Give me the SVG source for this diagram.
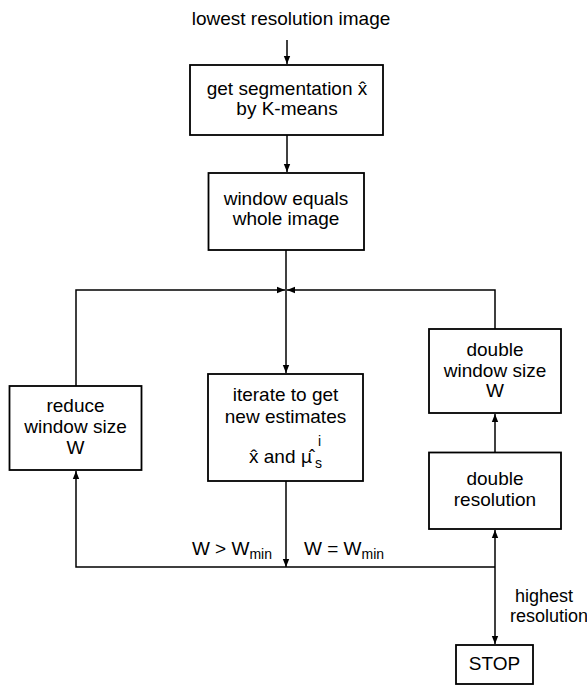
<svg xmlns="http://www.w3.org/2000/svg" width="587" height="685" viewBox="0 0 587 685">
<style>
  .box { fill: #fff; stroke: #000; stroke-width: 1.8; }
  .t { font-family: "Liberation Sans", Arial, Helvetica, sans-serif; font-size: 19px; fill: #000; text-anchor: middle; }
  .l { font-family: "Liberation Sans", Arial, Helvetica, sans-serif; font-size: 19px; fill: #000; }
  .sub { font-size: 14px; }
  .mu { font-family: "Noto Sans", "DejaVu Sans", sans-serif; font-size: 18px; }
  .c { fill: none; stroke: #000; stroke-width: 1.5; }
</style>
<defs>
  <marker id="ah" markerUnits="userSpaceOnUse" markerWidth="10" markerHeight="8" refX="8" refY="4" orient="auto">
    <path d="M0,0.8 L8,4 L0,7.2 Z" fill="#000"/>
  </marker>
</defs>
<rect width="587" height="685" fill="#fff"/>

<text id="title" class="t" x="291" y="25">lowest resolution image</text>

<g id="connectors">
  <line class="c" x1="287" y1="40" x2="287" y2="64" marker-end="url(#ah)"/>
  <line class="c" x1="287" y1="135" x2="287" y2="172" marker-end="url(#ah)"/>
  <line class="c" x1="286" y1="250" x2="286" y2="373" marker-end="url(#ah)"/>
  <polyline class="c" points="76,386 76,290 285,290" marker-end="url(#ah)"/>
  <polyline class="c" points="495,329 495,290 287,290" marker-end="url(#ah)"/>
  <line class="c" x1="286" y1="481" x2="286" y2="567" marker-end="url(#ah)"/>
  <polyline class="c" points="495,567 76,567 76,471" marker-end="url(#ah)"/>
  <line class="c" x1="495" y1="567" x2="495" y2="530" marker-end="url(#ah)"/>
  <line class="c" x1="495" y1="567" x2="495" y2="644" marker-end="url(#ah)"/>
  <line class="c" x1="495" y1="452" x2="495" y2="414" marker-end="url(#ah)"/>
  <text class="l" x="272" y="555" text-anchor="end">W &gt; W<tspan class="sub" dy="4">min</tspan></text>
  <text class="l" x="304" y="555">W = W<tspan class="sub" dy="4">min</tspan></text>
  <text class="l" x="515" y="602" style="font-size:18px">highest</text>
  <text class="l" x="510" y="622" style="font-size:18px">resolution</text>
</g>

<g id="kmeans">
  <rect class="box" x="190" y="65" width="193" height="70"/>
  <text class="t" x="287" y="95">get segmentation x̂</text>
  <text class="t" x="287" y="115">by K-means</text>
</g>

<g id="whole">
  <rect class="box" x="208.5" y="173" width="155.5" height="77"/>
  <text class="t" x="286" y="205">window equals</text>
  <text class="t" x="286" y="225">whole image</text>
</g>

<g id="reduce">
  <rect class="box" x="9.5" y="386" width="132" height="84"/>
  <text class="t" x="75.5" y="412">reduce</text>
  <text class="t" x="75.5" y="433">window size</text>
  <text class="t" x="75.5" y="454">W</text>
</g>

<g id="iterate">
  <rect class="box" x="208" y="374" width="155" height="107"/>
  <text class="t" x="285.5" y="401">iterate to get</text>
  <text class="t" x="285.5" y="423">new estimates</text>
  <text class="l" x="249" y="463">x̂ and <tspan class="mu">μ̂</tspan><tspan class="sub" x="315" y="468">s</tspan><tspan class="sub" x="318" y="446">i</tspan></text>
</g>

<g id="doublewin">
  <rect class="box" x="429" y="329" width="132" height="84"/>
  <text class="t" x="495" y="356">double</text>
  <text class="t" x="495" y="377">window size</text>
  <text class="t" x="495" y="397">W</text>
</g>

<g id="doubleres">
  <rect class="box" x="429" y="452.5" width="132" height="76.5"/>
  <text class="t" x="495" y="485">double</text>
  <text class="t" x="495" y="506">resolution</text>
</g>

<g id="stop">
  <rect class="box" x="456" y="645" width="77" height="39"/>
  <text class="t" x="494.5" y="670">STOP</text>
</g>
</svg>
